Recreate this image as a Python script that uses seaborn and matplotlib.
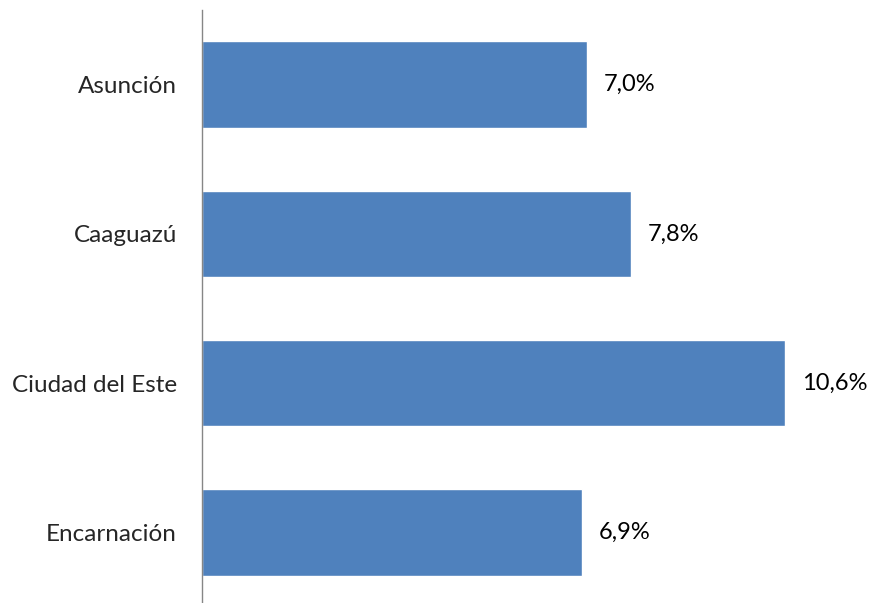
import numpy as np
import pandas as pd
import matplotlib
matplotlib.use('Agg')
import matplotlib.pyplot as plt
import seaborn as sns

ciudades = ['Asunción', 'Caaguazú', 'Ciudad del Este', 'Encarnación']
valores = [7.0, 7.8, 10.6, 6.9]
etiquetas = ['7,0%', '7,8%', '10,6%', '6,9%']

df = pd.DataFrame({'ciudad': ciudades, 'valor': valores})

sns.set_style('white')
plt.rcParams['font.family'] = ['Lato', 'DejaVu Sans']

fig = plt.figure(figsize=(8.69, 6.03), dpi=100)
ax = fig.add_axes([202 / 869, -4 / 603, 660 / 869, 597 / 603])

sns.barplot(data=df, x='valor', y='ciudad', orient='h', color='#4F81BD',
            saturation=1, width=0.58, ax=ax)

# etiquetas de datos a la derecha de cada barra
for i, (v, t) in enumerate(zip(valores, etiquetas)):
    ax.text(v + 0.31, i, t, va='center', ha='left', fontsize=17, color='black')

ax.set_xlim(0, 12)
ax.set_ylim(3.5, -0.5)
ax.set_xlabel('')
ax.set_ylabel('')
ax.set_xticks([])
ax.tick_params(axis='y', length=0, labelsize=17.5, pad=18)
for s in ['top', 'right', 'bottom']:
    ax.spines[s].set_visible(False)
ax.spines['left'].set_color('#868686')
ax.spines['left'].set_linewidth(1)

fig.savefig('out.png', dpi=100)
